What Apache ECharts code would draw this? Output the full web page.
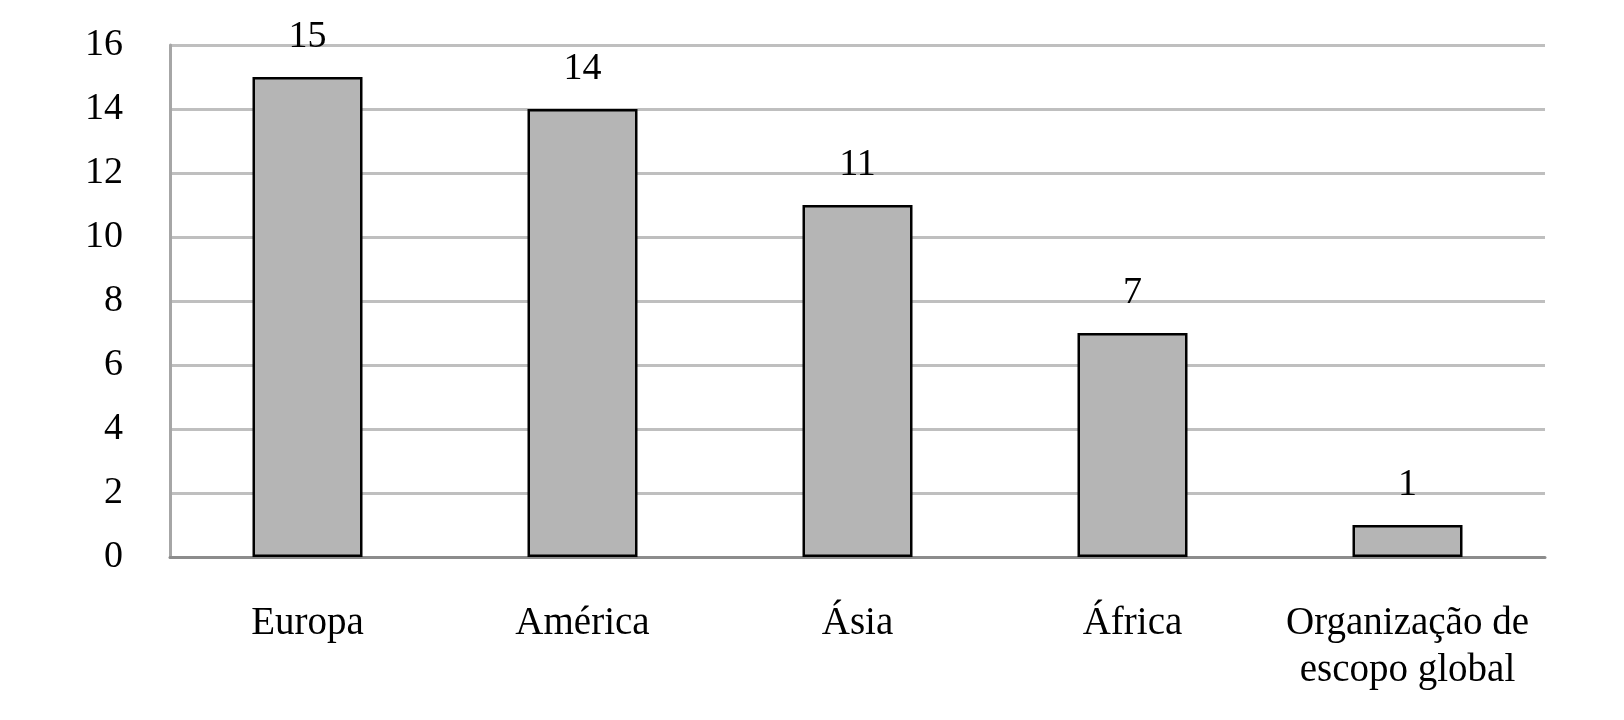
<!DOCTYPE html>
<html>
<head>
<meta charset="utf-8">
<script src="https://cdn.jsdelivr.net/npm/echarts@6/dist/echarts.min.js"></script>
<style>
html,body{margin:0;padding:0;background:#fff;}
#chart{width:1624px;height:720px;}
</style>
</head>
<body>
<div id="chart"></div>
<script>
const categories = ["Europa", "América", "Ásia", "África", "Organização de\nescopo global"];
const values = [15, 14, 11, 7, 1];
const yTicks = [0, 2, 4, 6, 8, 10, 12, 14, 16];

const FONT = '"Liberation Serif", "DejaVu Serif", serif';
const chart = echarts.init(document.getElementById('chart'), null, {renderer: 'canvas'});
chart.setOption({
  animation: false,
  backgroundColor: '#ffffff',
  grid: {left: 170, right: 79, top: 45, bottom: 163, containLabel: false},
  xAxis: {
    type: 'category',
    data: categories,
    axisLine: {show: true, lineStyle: {color: '#8c8c8c', width: 3}},
    axisTick: {show: false},
    axisLabel: {color: '#000', fontFamily: FONT, fontSize: 39, margin: 43, lineHeight: 47, interval: 0}
  },
  yAxis: {
    type: 'value',
    min: yTicks[0],
    max: yTicks[yTicks.length - 1],
    interval: 2,
    axisLine: {show: true, lineStyle: {color: '#a6a6a6', width: 3}},
    axisTick: {show: false},
    splitLine: {show: true, lineStyle: {color: '#bfbfbf', width: 3}},
    axisLabel: {color: '#000', fontFamily: FONT, fontSize: 38, margin: 47, padding: [4, 0, 0, 0]}
  },
  series: [{
    type: 'bar',
    data: values,
    barCategoryGap: '60%',
    itemStyle: {color: '#b5b5b5', borderColor: '#000', borderWidth: 2.5},
    label: {show: true, position: 'top', distance: 21, color: '#000', fontFamily: FONT, fontSize: 38}
  }]
});
</script>
</body>
</html>
